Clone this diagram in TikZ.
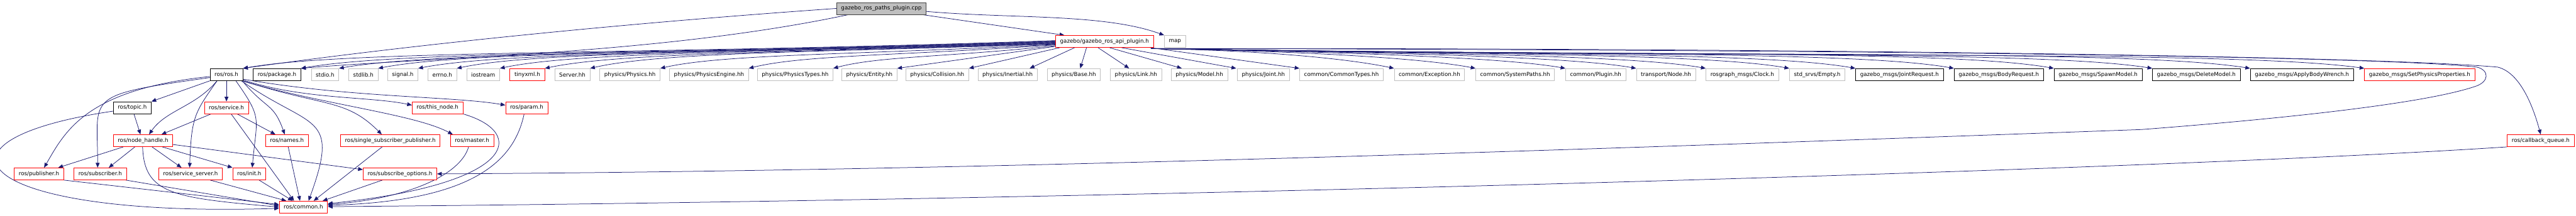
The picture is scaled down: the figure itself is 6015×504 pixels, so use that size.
\documentclass[tikz,border=0pt]{standalone}
\usepackage{fontspec}
\setmainfont{DejaVu Sans}
\usetikzlibrary{arrows.meta,backgrounds,calc}
\definecolor{edgec}{HTML}{191970}
\definecolor{redb}{HTML}{FF0000}
\definecolor{grayb}{HTML}{BFBFBF}
\definecolor{topfill}{HTML}{BFBFBF}
\definecolor{topdraw}{HTML}{404040}
\tikzset{
  nbox/.style={rectangle, draw, line width=0.12pt, minimum height=2.8pt, inner xsep=1.05pt, inner ysep=0pt, fill=white, text=black, font=\fontsize{1.28pt}{1.5pt}\selectfont},
  rb/.style={nbox, draw=redb},
  kb/.style={nbox, draw=black},
  gb/.style={nbox, draw=grayb},
  tb/.style={nbox, draw=topdraw, fill=topfill},
  edge/.style={draw=edgec, line width=0.11pt, -{Triangle[length=1.1pt,width=0.9pt]}}
}
\begin{document}
\begin{tikzpicture}[x=0.1pt,y=0.1pt]
\useasboundingbox (0,0) rectangle (6015,-504);
% ---- nodes ----
\node[tb] (top) at (2058,-19.8) {gazebo\_ros\_paths\_plugin.cpp};
\node[rb] (api) at (2579,-97) {gazebo/gazebo\_ros\_api\_plugin.h};
\node[gb] (map) at (2743.5,-97) {map};
% row 1
\node[kb] (ros) at (528.8,-174.5) {ros/ros.h};
\node[kb] (pkg) at (646.8,-174.5) {ros/package.h};
\node[gb] (stdio) at (759,-174.5) {stdio.h};
\node[gb] (stdlib) at (848.5,-174.5) {stdlib.h};
\node[gb] (signal) at (940.4,-174.5) {signal.h};
\node[gb] (errno) at (1032.8,-174.5) {errno.h};
\node[gb] (iostream) at (1128.2,-174.5) {iostream};
\node[rb] (tinyxml) at (1231.3,-174.5) {tinyxml.h};
\node[gb] (server) at (1336.4,-174.5) {Server.hh};
\node[gb] (phys) at (1471,-174.5) {physics/Physics.hh};
\node[gb] (physeng) at (1655.6,-174.5) {physics/PhysicsEngine.hh};
\node[gb] (phystypes) at (1856.7,-174.5) {physics/PhysicsTypes.hh};
\node[gb] (entity) at (2030,-174.5) {physics/Entity.hh};
\node[gb] (collision) at (2188.5,-174.5) {physics/Collision.hh};
\node[gb] (inertial) at (2352.6,-174.5) {physics/Inertial.hh};
\node[gb] (base) at (2507.4,-174.5) {physics/Base.hh};
\node[gb] (link) at (2652.5,-174.5) {physics/Link.hh};
\node[gb] (model) at (2800.5,-174.5) {physics/Model.hh};
\node[gb] (joint) at (2950,-174.5) {physics/Joint.hh};
\node[gb] (ctypes) at (3132.3,-174.5) {common/CommonTypes.hh};
\node[gb] (exc) at (3337.8,-174.5) {common/Exception.hh};
\node[gb] (syspaths) at (3537.8,-174.5) {common/SystemPaths.hh};
\node[gb] (plugin) at (3726,-174.5) {common/Plugin.hh};
\node[gb] (tnode) at (3890,-174.5) {transport/Node.hh};
\node[gb] (clock) at (4068.2,-174.5) {rosgraph\_msgs/Clock.h};
\node[gb] (empty) at (4243.1,-174.5) {std\_srvs/Empty.h};
\node[kb] (jreq) at (4435.3,-174.5) {gazebo\_msgs/JointRequest.h};
\node[kb] (breq) at (4667.3,-174.5) {gazebo\_msgs/BodyRequest.h};
\node[kb] (spawn) at (4899,-174.5) {gazebo\_msgs/SpawnModel.h};
\node[kb] (delm) at (5128.4,-174.5) {gazebo\_msgs/DeleteModel.h};
\node[kb] (wrench) at (5375,-174.5) {gazebo\_msgs/ApplyBodyWrench.h};
\node[rb] (setphys) at (5649.9,-174.5) {gazebo\_msgs/SetPhysicsProperties.h};
% row 2
\node[kb] (topic) at (308.8,-252) {ros/topic.h};
\node[rb] (service) at (528.8,-252) {ros/service.h};
\node[rb] (thisnode) at (1021.7,-252) {ros/this\_node.h};
\node[rb] (param) at (1229.8,-252) {ros/param.h};
% row 3
\node[rb] (nh) at (334,-329) {ros/node\_handle.h};
\node[rb] (names) at (670,-329) {ros/names.h};
\node[rb] (ssp) at (911.3,-329) {ros/single\_subscriber\_publisher.h};
\node[rb] (master) at (1102.2,-329) {ros/master.h};
\node[rb] (cbq) at (5932.5,-329) {ros/callback\_queue.h};
% row 4
\node[rb] (pub) at (91,-406.7) {ros/publisher.h};
\node[rb] (sub) at (234,-406.7) {ros/subscriber.h};
\node[rb] (srvsrv) at (444.8,-406.7) {ros/service\_server.h};
\node[rb] (init) at (582,-406.7) {ros/init.h};
\node[rb] (subopt) at (933.8,-406.7) {ros/subscribe\_options.h};
% row 5
\node[rb] (common) at (708.5,-484.3) {ros/common.h};

\begin{pgfonlayer}{background}
\fill[white] (0,0) rectangle (6015,-504);
% ---- top node ----
\draw[edge] (top.west) to[out=184,in=8,out distance=50pt,in distance=40pt] (ros.north east);
\draw[edge] ($(top.south west)+(28,0)$) to[out=192,in=5,out distance=45pt,in distance=30pt] (pkg.north east);
\draw[edge] ($(top.south east)+(-9,0)$) -- ($(api.north west)+(21,0)$);
\draw[edge] ($(top.east)+(0,-7)$) to[out=-5,in=160,out distance=20pt,in distance=15pt] (map.north west);
% ---- api, left bundle ----
\draw[edge] ($(api.west)+(0,2)$) to[out=182,in=10,out distance=95pt,in distance=25pt] (ros.north east);
\draw[edge] ($(api.west)+(0,1)$) to[out=182,in=10,out distance=88pt,in distance=24pt] (pkg.north east);
\draw[edge] (api.west) to[out=182,in=10,out distance=83pt,in distance=23pt] (stdio.north east);
\draw[edge] ($(api.west)+(0,-1)$) to[out=182,in=11,out distance=79pt,in distance=22pt] (stdlib.north east);
\draw[edge] ($(api.west)+(0,-2)$) to[out=182,in=11,out distance=74pt,in distance=21pt] (signal.north east);
\draw[edge] ($(api.west)+(0,-3)$) to[out=182,in=12,out distance=70pt,in distance=20pt] (errno.north east);
\draw[edge] ($(api.west)+(0,-4)$) to[out=182,in=12,out distance=65pt,in distance=19pt] (iostream.north east);
\draw[edge] ($(api.west)+(0,-5)$) to[out=182,in=12,out distance=60pt,in distance=18pt] (tinyxml.north east);
\draw[edge] ($(api.west)+(0,-6)$) to[out=182,in=13,out distance=54pt,in distance=17pt] (server.north east);
\draw[edge] ($(api.west)+(0,-7)$) to[out=183,in=13,out distance=46pt,in distance=15pt] (phys.north east);
\draw[edge] ($(api.west)+(0,-8)$) to[out=184,in=14,out distance=36pt,in distance=13pt] (physeng.north east);
\draw[edge] ($(api.west)+(0,-10)$) to[out=186,in=15,out distance=26pt,in distance=11pt] (phystypes.north east);
\draw[edge] ($(api.south west)+(0,3)$) -- (entity.north east);
\draw[edge] ($(api.south west)+(10,0)$) -- (collision.north east);
\draw[edge] ($(api.south)+(-70,0)$) -- ($(inertial.north east)+(-18,0)$);
\draw[edge] ($(api.south)+(-42,0)$) -- ($(base.north)+(15,0)$);
\draw[edge] ($(api.south)+(-15,0)$) -- ($(link.north)+(-16,0)$);
\draw[edge] ($(api.south)+(12,0)$) -- ($(model.north)+(-41,0)$);
\draw[edge] ($(api.south)+(40,0)$) -- ($(joint.north west)+(-2,0)$);
\draw[edge] ($(api.south east)+(-8,0)$) -- (ctypes.north west);
% ---- api, right bundle ----
\coordinate (apir) at ($(api.south east)+(-6,-2)$);
\draw[edge] (apir) to[out=-1,in=168,out distance=28pt,in distance=10pt] (exc.north west);
\draw[edge] (apir) to[out=-1,in=169,out distance=37.5pt,in distance=12pt] (syspaths.north west);
\draw[edge] (apir) to[out=-1,in=170,out distance=48pt,in distance=14pt] (plugin.north west);
\draw[edge] (apir) to[out=-1,in=170,out distance=56pt,in distance=16pt] (tnode.north west);
\draw[edge] (apir) to[out=-1,in=170,out distance=64pt,in distance=18pt] (clock.north west);
\draw[edge] (apir) to[out=-1,in=170,out distance=74pt,in distance=20pt] (empty.north west);
\draw[edge] (apir) to[out=-1,in=170,out distance=82pt,in distance=22pt] (jreq.north west);
\draw[edge] (apir) to[out=-1,in=170,out distance=93pt,in distance=24pt] (breq.north west);
\draw[edge] (apir) to[out=-1,in=170,out distance=105pt,in distance=26pt] (spawn.north west);
\draw[edge] (apir) to[out=-1,in=171,out distance=116pt,in distance=28pt] (delm.north west);
\draw[edge] (apir) to[out=-1,in=171,out distance=128pt,in distance=30pt] (wrench.north west);
\draw[edge] (apir) to[out=-1,in=172,out distance=140pt,in distance=32pt] (setphys.north west);
\draw[edge] (apir) .. controls (4000,-112) and (5500,-128) .. (5832,-157) .. controls (5885,-170) and (5915,-250) .. (cbq.north);
\draw[edge] (apir) .. controls (4200,-116) and (5550,-130) .. (5783,-157) .. controls (5812,-163) and (5815,-192) .. (5777,-203) .. controls (5650,-245) and (5300,-280) .. (5000,-303) .. controls (3700,-350) and (2300,-400) .. (subopt.east);
% ---- ros/ros.h ----
\draw[edge] (ros.south west) -- (topic.north east);
\draw[edge] ($(ros.south)+(-22,0)$) to[out=-130,in=55,out distance=8pt,in distance=7pt] ($(nh.north)+(14,0)$);
\draw[edge] ($(ros.south)+(-22,0)$) to[out=-125,in=88,out distance=9pt,in distance=12pt] ($(srvsrv.north)+(-2,0)$);
\draw[edge] (ros.south) -- (service.north);
\draw[edge] ($(ros.south)+(22,0)$) to[out=-55,in=85,out distance=11pt,in distance=12pt] ($(init.north)+(7,0)$);
\draw[edge] ($(ros.south east)+(-2,0)$) to[out=-50,in=110,out distance=9pt,in distance=8pt] ($(names.north)+(-5,0)$);
\draw[edge] ($(ros.south east)+(-4,0)$) to[out=-35,in=70,out distance=20pt,in distance=22pt] ($(common.north)+(12,0)$);
\draw[edge] (ros.south east) to[out=-18,in=135,out distance=20pt,in distance=12pt] ($(ssp.north)+(-20,0)$);
\draw[edge] ($(ros.south east)+(0,-1)$) to[out=-16,in=152,out distance=20pt,in distance=10pt] ($(master.north west)+(6,0)$);
\draw[edge] ($(ros.south east)+(0,2)$) to[out=-18,in=168,out distance=15pt,in distance=10pt] ($(thisnode.west)+(0,6)$);
\draw[edge] ($(ros.south east)+(0,4)$) to[out=-10,in=170,out distance=25pt,in distance=12pt] ($(param.west)+(0,6)$);
\draw[edge] ($(ros.west)+(0,-4.5)$) to[out=186,in=60,out distance=29pt,in distance=10pt] ($(pub.north)+(12,0)$);
\draw[edge] ($(ros.west)+(0,-7)$) to[out=188,in=90,out distance=30pt,in distance=17pt] ($(sub.north)+(-6,0)$);
% ---- ros/topic.h ----
\draw[edge] ($(topic.south)+(4,0)$) -- ($(nh.north)+(-6,0)$);
\draw[edge] ($(topic.west)+(0,-8)$) .. controls (-210,-330) and (-60,-510) .. ($(common.west)+(0,-3)$);
% ---- ros/service.h ----
\draw[edge] ($(service.south)+(-36,0)$) -- ($(nh.north)+(43,0)$);
\draw[edge] ($(service.south)+(25,0)$) -- ($(names.north)+(-27,0)$);
\draw[edge] ($(service.south)+(11,0)$) -- ($(common.north)+(-22,0)$);
% ---- ros/node_handle.h ----
\draw[edge] ($(nh.south)+(-46,0)$) -- ($(pub.north)+(45,0)$);
\draw[edge] ($(nh.south)+(-19,0)$) -- ($(sub.north)+(20,0)$);
\draw[edge] ($(nh.south)+(21,0)$) -- ($(srvsrv.north)+(-21,0)$);
\draw[edge] ($(nh.south)+(45,0)$) -- (init.north west);
\draw[edge] ($(nh.east)+(0,-9)$) -- ($(subopt.west)+(0,10)$);
\draw[edge] ($(nh.south)+(-1,0)$) to[out=-88,in=175,out distance=11pt,in distance=25pt] (common.west);
% ---- row 4 to common ----
\draw[edge] (pub.south east) -- ($(common.west)+(0,6)$);
\draw[edge] ($(sub.south east)+(-2,0)$) -- ($(common.west)+(0,3)$);
\draw[edge] ($(srvsrv.south)+(46,0)$) -- ($(common.north)+(-40,0)$);
\draw[edge] ($(init.south)+(23,0)$) -- ($(common.north)+(-25,0)$);
\draw[edge] ($(subopt.south)+(-41,0)$) -- ($(common.north)+(45,0)$);
% ---- row 3 to common ----
\draw[edge] ($(names.south)+(3,0)$) -- ($(common.north)+(-8,0)$);
\draw[edge] ($(ssp.south)+(-19,0)$) -- ($(common.north)+(24,0)$);
\draw[edge] ($(master.south)+(-8,0)$) .. controls (1075,-410) and (950,-465) .. ($(common.east)+(0,6)$);
\draw[edge] (thisnode.south east) .. controls (1230,-310) and (1210,-430) .. ($(common.east)+(0,8)$);
\draw[edge] ($(param.south)+(-6,0)$) .. controls (1200,-380) and (1100,-470) .. ($(common.east)+(0,4)$);
\draw[edge] (cbq.south west) .. controls (5000,-400) and (2500,-470) .. ($(common.east)+(0,1)$);
\end{pgfonlayer}
\end{tikzpicture}
\end{document}
